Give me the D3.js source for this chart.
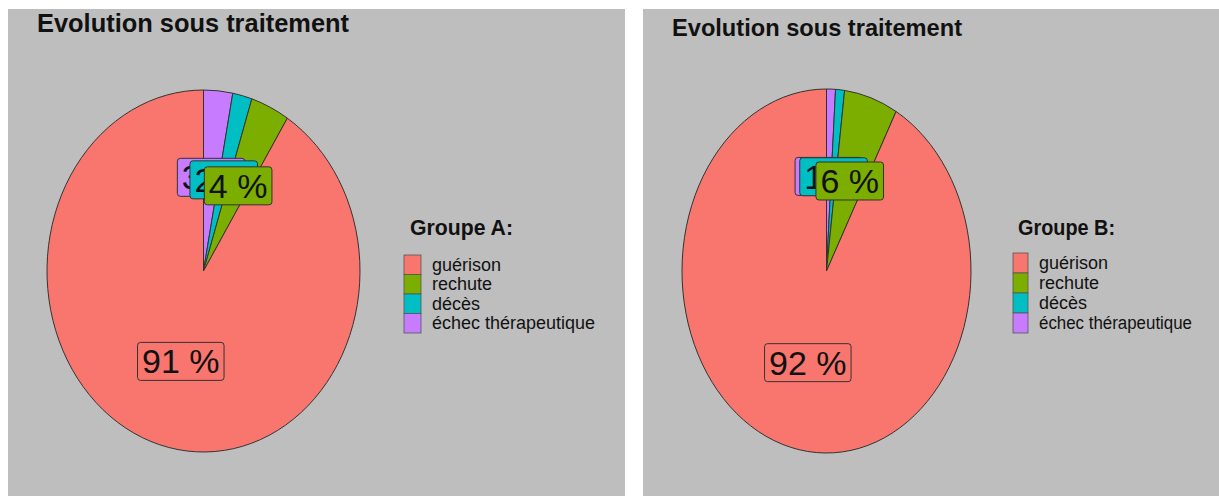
<!DOCTYPE html>
<html><head><meta charset="utf-8">
<script src="https://cdn.jsdelivr.net/npm/d3@7"></script>
<style>body{margin:0;background:#fff;} svg{display:block;font-family:"Liberation Sans",Arial,sans-serif;}</style>
</head><body>
<svg id="c" width="1219" height="496"></svg>
<script>
const categories = ["guérison", "rechute", "décès", "échec thérapeutique"];
const colors = ["#F8766D", "#7CAE00", "#00BFC4", "#C77CFF"];
const valuesA = [91, 4, 2, 3];
const valuesB = [92, 6, 1, 1];
const groupTitles = ["Groupe A:", "Groupe B:"];
const chartTitle = "Evolution sous traitement";

const svg = d3.select("#c");

const panels = [
  {x0: 8, x1: 625, values: valuesA, group: groupTitles[0],
   cx: 203.5, cy: 271, rx: 156.5, ry: 181,
   titleX: 37, titleY: 32, titleLen: 312, titleSize: 25,
   legX: 404, legY: 255, keyW: 17, rowH: 19.5, labX: 432, labLen: 163, labSize: 18,
   grpX: 410, grpY: 235, grpLen: 103, grpSize: 22},
  {x0: 643, x1: 1219, values: valuesB, group: groupTitles[1],
   cx: 826.5, cy: 271, rx: 144.5, ry: 182,
   titleX: 672, titleY: 36, titleLen: 290, titleSize: 24,
   legX: 1013, legY: 253, keyW: 15, rowH: 20, labX: 1039, labLen: 153, labSize: 18,
   grpX: 1018, grpY: 235, grpLen: 97, grpSize: 22}
];

panels.forEach(p => {
  const g = svg.append("g");
  g.append("rect").attr("x", p.x0).attr("y", 9).attr("width", p.x1 - p.x0).attr("height", 487).attr("fill", "#BEBEBE");
  g.append("text").attr("x", p.titleX).attr("y", p.titleY).text(chartTitle)
    .attr("font-size", p.titleSize).attr("font-weight", "bold").attr("fill", "#111")
    .attr("textLength", p.titleLen).attr("lengthAdjust", "spacingAndGlyphs");

  // pie: clockwise from top: échec, décès, rechute, guérison
  const order = [3, 2, 1, 0];
  const data = order.map(i => ({i, v: p.values[i]}));
  const pie = d3.pie().sort(null).value(d => d.v);
  const arcs = pie(data);
  const R = 100;
  const arc = d3.arc().innerRadius(0).outerRadius(R);
  const pg = g.append("g").attr("transform", `translate(${p.cx},${p.cy}) scale(${p.rx / R},${p.ry / R})`);
  pg.selectAll("path").data(arcs).join("path")
    .attr("d", arc)
    .attr("fill", d => colors[d.data.i])
    .attr("stroke", "#333")
    .attr("stroke-width", 1)
    .attr("vector-effect", "non-scaling-stroke");

  // labels
  const lr = 0.52;
  const lg = g.append("g");
  arcs.forEach(a => {
    const m = (a.startAngle + a.endAngle) / 2;
    const x = p.cx + lr * p.rx * Math.sin(m);
    const y = p.cy - lr * p.ry * Math.cos(m);
    const grp = lg.append("g");
    const rect = grp.append("rect");
    const t = grp.append("text").attr("x", x).attr("y", y + 12)
      .attr("text-anchor", "middle").attr("font-size", 34).attr("fill", "#111")
      .text(a.data.v + " %");
    const w = t.node().getComputedTextLength() + 9;
    rect.attr("x", x - w / 2).attr("y", y - 19).attr("width", w).attr("height", 38)
      .attr("rx", 3).attr("fill", colors[a.data.i]).attr("stroke", "#333").attr("stroke-width", 1);
  });

  // legend
  g.append("text").attr("x", p.grpX).attr("y", p.grpY).text(p.group)
    .attr("font-size", p.grpSize).attr("font-weight", "bold").attr("fill", "#111")
    .attr("textLength", p.grpLen).attr("lengthAdjust", "spacingAndGlyphs");
  categories.forEach((c, i) => {
    const y = p.legY + i * p.rowH;
    g.append("rect").attr("x", p.legX).attr("y", y).attr("width", p.keyW).attr("height", p.rowH)
      .attr("fill", colors[i]).attr("stroke", "#555").attr("stroke-width", 0.8);
    const t = g.append("text").attr("x", p.labX).attr("y", y + p.rowH / 2 + 6).text(c)
      .attr("font-size", p.labSize).attr("fill", "#111");
    if (i === 3) t.attr("textLength", p.labLen).attr("lengthAdjust", "spacingAndGlyphs");
  });
});
</script>
</body></html>
